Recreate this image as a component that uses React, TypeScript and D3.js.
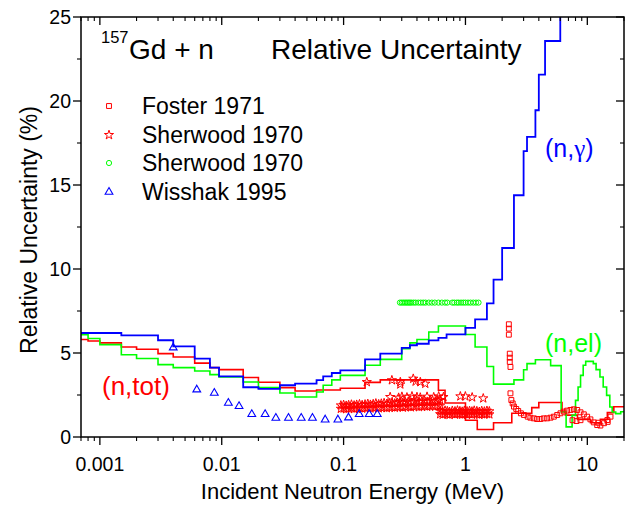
import React from 'react';
import * as d3 from 'd3';

const W = 632;
const H = 507;
const PL = 81, PR = 624, PT = 17, PB = 437;

// (n,gamma) step curve: group lower energy (MeV) and relative uncertainty (%)
const ngE = [0.0007, 0.0015, 0.003, 0.004, 0.006, 0.008, 0.0095, 0.015, 0.02, 0.03, 0.04, 0.06, 0.068, 0.08, 0.094, 0.15, 0.2, 0.3, 0.35, 0.4, 0.5, 0.6, 0.7, 1.0, 1.2, 1.5, 1.7, 2.0, 2.5, 3.0, 3.2, 3.75, 4.0, 4.5, 6.0, 20];
const ngV = [6.19, 6.05, 5.76, 5.40, 4.67, 4.13, 3.61, 2.96, 2.86, 3.08, 3.18, 3.38, 3.61, 3.81, 3.97, 4.62, 4.96, 5.30, 5.46, 5.55, 5.75, 5.9, 6.11, 6.5, 7.0, 7.95, 9.37, 11.25, 14.39, 17.02, 17.86, 19.45, 21.57, 23.57, 30, 30];

// (n,el) step curve
const nelE = [0.0007, 0.0008, 0.001, 0.0015, 0.002, 0.003, 0.004, 0.006, 0.008, 0.0095, 0.015, 0.02, 0.03, 0.04, 0.06, 0.068, 0.08, 0.094, 0.15, 0.2, 0.3, 0.35, 0.4, 0.5, 0.6, 1.0, 1.2, 1.5, 1.7, 2.5, 3.0, 3.2, 3.75, 5.0, 6.1, 6.7, 7.5, 8.0, 8.4, 8.8, 9.25, 9.7, 11.2, 11.8, 12.7, 13.5, 14.4, 15.3, 16.0, 17.1, 18.8, 20];
const nelV = [6.09, 5.86, 5.50, 4.90, 4.67, 4.31, 4.13, 3.93, 3.71, 3.57, 3.27, 2.94, 2.62, 2.38, 2.68, 3.08, 3.4, 3.67, 4.27, 4.62, 5.25, 5.6, 5.8, 6.25, 6.61, 6.1, 5.36, 4.2, 3.15, 3.4, 4.0, 4.37, 4.6, 4.25, 1.49, 0.6, 1.29, 2.18, 2.98, 3.67, 4.27, 4.5, 4.37, 4.01, 3.57, 2.98, 2.48, 1.79, 1.49, 1.39, 1.5, 1.5];

// (n,tot) step curve
const ntotE = [0.0007, 0.0008, 0.001, 0.0015, 0.002, 0.003, 0.004, 0.006, 0.008, 0.0095, 0.015, 0.02, 0.03, 0.04, 0.06, 0.094, 0.15, 0.2, 0.6, 0.68, 1.0, 1.25, 1.7, 2.4, 3.5, 4.0, 6.2, 6.6, 8.3, 10.6, 12.8, 14.6, 16.5, 20];
const ntotV = [5.80, 5.71, 5.60, 5.36, 5.22, 4.96, 4.76, 4.40, 4.13, 4.01, 3.54, 3.26, 2.94, 2.74, 2.8, 2.9, 3.25, 3.4, 2.78, 2.02, 1.0, 0.45, 0.85, 1.41, 1.75, 2.05, 1.55, 1.3, 1.05, 0.85, 1.05, 1.45, 1.8, 1.8];

// Foster 1971 (squares)
const fosterE = [2.27, 2.27, 2.27, 2.31, 2.31, 2.31, 2.34, 2.34, 2.38, 2.44, 2.5, 2.61, 2.71, 2.85, 3.02, 3.24, 3.41, 3.64, 3.87, 4.12, 4.39, 4.68, 4.99, 5.31, 5.66, 6.02, 6.41, 6.83, 7.28, 7.75, 8.26, 8.79, 9.36, 9.97, 10.6, 11.3, 12.05, 12.8, 13.7, 14.6, 15.5, 7.56, 8.15, 8.79, 12.3, 14.7];
const fosterV = [6.71, 6.45, 6.09, 4.96, 4.72, 4.47, 4.17, 2.6, 2.2, 2.0, 1.81, 1.67, 1.55, 1.41, 1.31, 1.21, 1.15, 1.11, 1.07, 1.07, 1.11, 1.11, 1.15, 1.21, 1.31, 1.41, 1.51, 1.57, 1.61, 1.65, 1.61, 1.47, 1.35, 1.21, 1.05, 0.87, 0.71, 0.68, 0.82, 1.01, 1.21, 1.0, 0.95, 1.0, 0.85, 0.9];

// Sherwood 1970 (stars), band 1
const sherStarE1 = [0.095, 0.1, 0.105, 0.11, 0.116, 0.122, 0.128, 0.135, 0.142, 0.15, 0.158, 0.166, 0.175, 0.184, 0.194, 0.204, 0.215, 0.226, 0.238, 0.25, 0.263, 0.277, 0.291, 0.306, 0.322, 0.339, 0.357, 0.376, 0.395, 0.416, 0.438, 0.461, 0.485, 0.51, 0.537, 0.565, 0.595, 0.62];
const sherStarV1a = [1.68, 1.7, 1.66, 1.69, 1.72, 1.67, 1.7, 1.73, 1.69, 1.72, 1.75, 1.7, 1.73, 1.76, 1.71, 1.74, 1.77, 1.72, 1.75, 1.78, 1.74, 1.77, 1.8, 1.75, 1.78, 1.81, 1.77, 1.8, 1.83, 1.78, 1.81, 1.84, 1.8, 1.83, 1.86, 1.81, 1.84, 1.87];
const sherStarV1b = [1.88, 1.91, 1.86, 1.9, 1.93, 1.88, 1.92, 1.95, 1.9, 1.94, 1.97, 1.92, 1.96, 2.0, 1.95, 1.99, 2.02, 1.97, 2.01, 2.05, 2.0, 2.04, 2.08, 2.03, 2.07, 2.1, 2.05, 2.09, 2.13, 2.08, 2.12, 2.16, 2.1, 2.14, 2.18, 2.12, 2.16, 2.2];
// band 2
const sherStarE2 = [0.62, 0.65, 0.68, 0.71, 0.74, 0.78, 0.82, 0.86, 0.9, 0.94, 0.98, 1.03, 1.08, 1.13, 1.18, 1.24, 1.3, 1.36, 1.43, 1.5, 1.57];
const sherStarV2a = [1.36, 1.33, 1.38, 1.35, 1.32, 1.37, 1.34, 1.38, 1.35, 1.33, 1.37, 1.34, 1.36, 1.33, 1.38, 1.35, 1.32, 1.36, 1.34, 1.37, 1.35];
const sherStarV2b = [1.55, 1.52, 1.57, 1.54, 1.5, 1.56, 1.53, 1.58, 1.54, 1.51, 1.56, 1.53, 1.55, 1.52, 1.57, 1.54, 1.5, 1.55, 1.52, 1.56, 1.53];
// sparse upper stars
const sherStarE3 = [0.241, 0.283, 0.301, 0.331, 0.364, 0.4, 0.426, 0.484, 0.549, 0.603, 0.66, 0.908, 0.998, 1.135, 1.4, 0.155, 0.249, 0.292, 0.292, 0.373, 0.39, 0.426, 0.468];
const sherStarV3 = [2.38, 2.34, 2.4, 2.36, 2.42, 2.38, 2.35, 2.4, 2.37, 2.42, 2.38, 2.42, 2.42, 2.36, 2.3, 3.27, 3.38, 3.27, 3.13, 3.47, 3.3, 3.27, 3.17];

// Sherwood 1970 (circles)
const sherCircE = [0.29, 0.3, 0.31, 0.32, 0.33, 0.34, 0.35, 0.36, 0.375, 0.39, 0.41, 0.43, 0.45, 0.47, 0.5, 0.53, 0.56, 0.6, 0.64, 0.68, 0.71, 0.78, 0.81, 0.85, 0.88, 0.92, 0.96, 1.0, 1.05, 1.1, 1.16, 1.22, 1.28];
const sherCircV = [8.0, 8.0, 8.0, 8.0, 8.0, 8.0, 8.0, 8.0, 8.0, 8.0, 8.0, 8.0, 8.0, 8.0, 8.0, 8.0, 8.0, 8.0, 8.0, 8.0, 8.0, 8.0, 8.0, 8.0, 8.0, 8.0, 8.0, 8.0, 8.0, 8.0, 8.0, 8.0, 8.0];

// Wisshak 1995 (triangles)
const wissE = [0.004, 0.00624, 0.00869, 0.01133, 0.01387, 0.01764, 0.0227, 0.0278, 0.0353, 0.0449, 0.0555, 0.0706, 0.0898, 0.1097, 0.1343, 0.1622, 0.1888];
const wissV = [5.32, 2.82, 2.62, 2.02, 1.83, 1.35, 1.35, 1.13, 1.13, 1.13, 1.13, 1.03, 1.03, 1.15, 1.35, 1.35, 1.35];

const xMajor = [0.001, 0.01, 0.1, 1, 10];
const xMajorLabels = ['0.001', '0.01', '0.1', '1', '10'];
const yMajor = [0, 5, 10, 15, 20, 25];
const yMinor = [2.5, 7.5, 12.5, 17.5, 22.5];

const legendItems = ['Foster 1971', 'Sherwood 1970', 'Sherwood 1970', 'Wisshak 1995'];

const RED = '#ff0000';
const GREEN = '#00ff00';
const BLUE = '#0000ff';
const FONT = 'Arial, "Liberation Sans", Helvetica, sans-serif';

export default function App() {
  const x = d3.scaleLog().domain([0.0007, 20]).range([PL, PR]);
  const y = d3.scaleLinear().domain([0, 25]).range([PB, PT]);

  const step = (E: number[], V: number[]) =>
    d3.line<number>()
      .x((i) => x(E[i]))
      .y((i) => y(V[i]))
      .curve(d3.curveStepAfter)(E.map((_, i) => i)) || '';

  const xMinor = x.ticks().filter((t) => !xMajor.some((m) => Math.abs(m - t) / m < 1e-6));

  const starPath = d3.symbol().type(d3.symbolStar).size(26)() || '';
  const squarePath = d3.symbol().type(d3.symbolSquare).size(24)() || '';
  const triPath = d3.symbol().type(d3.symbolTriangle).size(26)() || '';

  const stars: [number, number][] = [];
  sherStarE1.forEach((e, i) => { stars.push([e, sherStarV1a[i]]); stars.push([e, sherStarV1b[i]]); });
  sherStarE2.forEach((e, i) => { stars.push([e, sherStarV2a[i]]); stars.push([e, sherStarV2b[i]]); });
  sherStarE3.forEach((e, i) => stars.push([e, sherStarV3[i]]));

  const legendY = [106, 135, 163, 192];

  return (
    <div style={{ position: 'absolute', left: 0, top: 0 }}>
      <svg width={W} height={H} style={{ display: 'block', background: '#fff' }} fontFamily={FONT}>
        <defs>
          <clipPath id="plotclip">
            <rect x={PL} y={PT} width={PR - PL} height={PB - PT} />
          </clipPath>
        </defs>

        <g clipPath="url(#plotclip)">
          <path d={step(ntotE, ntotV)} fill="none" stroke={RED} strokeWidth={1.6} />
          <path d={step(nelE, nelV)} fill="none" stroke={GREEN} strokeWidth={1.6} />
          <path d={step(ngE, ngV)} fill="none" stroke={BLUE} strokeWidth={1.8} />

          {stars.map(([e, v], i) => (
            <path key={'s' + i} d={starPath} transform={`translate(${x(e)},${y(v)})`} fill="none" stroke={RED} strokeWidth={1} />
          ))}
          {fosterE.map((e, i) => (
            <path key={'f' + i} d={squarePath} transform={`translate(${x(e)},${y(fosterV[i])})`} fill="none" stroke={RED} strokeWidth={1} />
          ))}
          {sherCircE.map((e, i) => (
            <circle key={'c' + i} cx={x(e)} cy={y(sherCircV[i])} r={2.6} fill="none" stroke={GREEN} strokeWidth={1} />
          ))}
          {wissE.map((e, i) => (
            <path key={'w' + i} d={triPath} transform={`translate(${x(e)},${y(wissV[i])})`} fill="none" stroke={BLUE} strokeWidth={1.1} />
          ))}
        </g>

        {/* frame */}
        <rect x={PL} y={PT} width={PR - PL} height={PB - PT} fill="none" stroke="#000" strokeWidth={1.5} />

        {/* x ticks */}
        {xMajor.map((t) => (
          <g key={'xM' + t}>
            <line x1={x(t)} x2={x(t)} y1={PB} y2={PB + 8} stroke="#000" strokeWidth={1.3} />
            <line x1={x(t)} x2={x(t)} y1={PT} y2={PT + 8} stroke="#000" strokeWidth={1.3} />
          </g>
        ))}
        {xMinor.map((t) => (
          <g key={'xm' + t}>
            <line x1={x(t)} x2={x(t)} y1={PB} y2={PB + 4} stroke="#000" strokeWidth={1.1} />
            <line x1={x(t)} x2={x(t)} y1={PT} y2={PT + 4} stroke="#000" strokeWidth={1.1} />
          </g>
        ))}
        {xMajor.map((t, i) => (
          <text key={'xl' + t} x={x(t)} y={471} textAnchor="middle" fontSize={19.5} fill="#000">{xMajorLabels[i]}</text>
        ))}

        {/* y ticks */}
        {yMajor.map((t) => (
          <g key={'yM' + t}>
            <line x1={PL - 8} x2={PL} y1={y(t)} y2={y(t)} stroke="#000" strokeWidth={1.3} />
            <line x1={PR - 8} x2={PR} y1={y(t)} y2={y(t)} stroke="#000" strokeWidth={1.3} />
            <text x={71} y={y(t) + 7} textAnchor="end" fontSize={19.5} fill="#000">{t}</text>
          </g>
        ))}
        {yMinor.map((t) => (
          <g key={'ym' + t}>
            <line x1={PL - 4} x2={PL} y1={y(t)} y2={y(t)} stroke="#000" strokeWidth={1.1} />
            <line x1={PR - 4} x2={PR} y1={y(t)} y2={y(t)} stroke="#000" strokeWidth={1.1} />
          </g>
        ))}

        {/* axis titles */}
        <text x={(PL + PR) / 2} y={499} textAnchor="middle" fontSize={22} fill="#000">Incident Neutron Energy (MeV)</text>
        <text transform={`translate(37,230) rotate(-90)`} textAnchor="middle" fontSize={23} fill="#000">Relative Uncertainty (%)</text>

        {/* title */}
        <text x={101} y={43} fontSize={16.5} fill="#000">157</text>
        <text x={129} y={59} fontSize={28} fill="#000">Gd + n</text>
        <text x={271} y={59} fontSize={28} fill="#000">Relative Uncertainty</text>

        {/* legend */}
        <path d={squarePath} transform={`translate(109,${legendY[0]})`} fill="none" stroke={RED} strokeWidth={1} />
        <path d={starPath} transform={`translate(109,${legendY[1]})`} fill="none" stroke={RED} strokeWidth={1} />
        <circle cx={109} cy={legendY[2]} r={2.6} fill="none" stroke={GREEN} strokeWidth={1} />
        <path d={triPath} transform={`translate(109,${legendY[3]})`} fill="none" stroke={BLUE} strokeWidth={1.1} />
        {legendItems.map((s, i) => (
          <text key={'lg' + i} x={142} y={legendY[i] + 8} fontSize={23} fill="#000">{s}</text>
        ))}

        {/* reaction labels */}
        <text x={545} y={157} fontSize={25} fill={BLUE}>(n,<tspan fontFamily='"Liberation Serif", "DejaVu Serif", serif'>γ</tspan>)</text>
        <text x={545} y={352} fontSize={25} fill={GREEN}>(n,el)</text>
        <text x={102} y={395} fontSize={26} fill={RED}>(n,tot)</text>
      </svg>
    </div>
  );
}
